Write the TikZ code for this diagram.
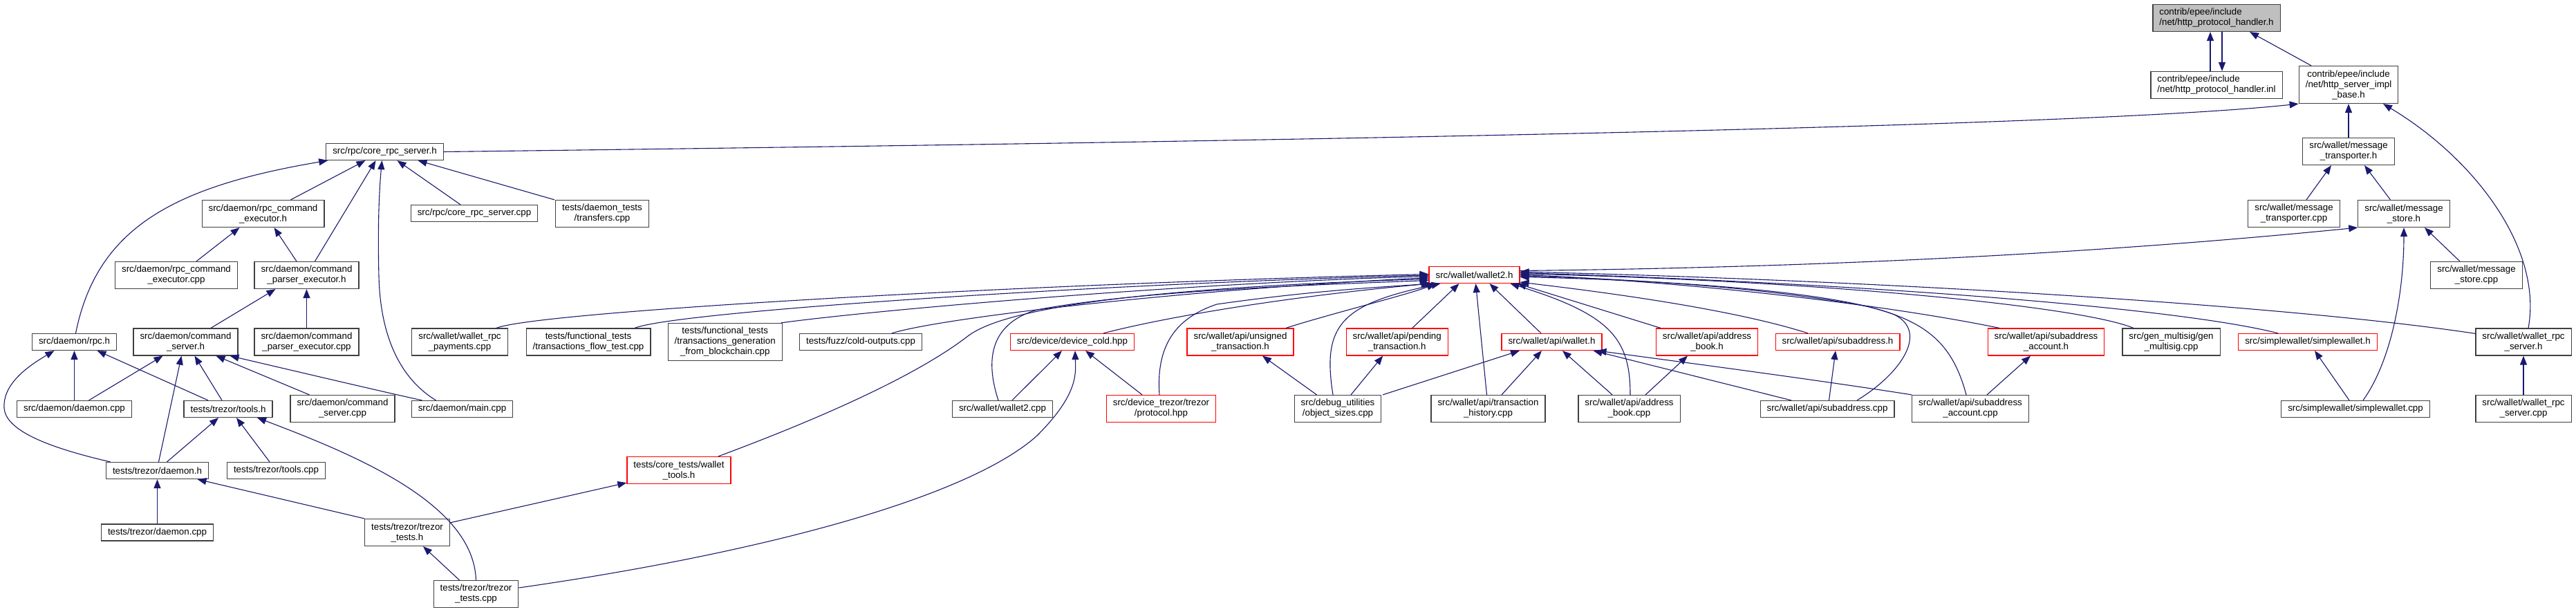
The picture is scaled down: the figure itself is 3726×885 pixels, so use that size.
\documentclass[tikz,border=0pt]{standalone}
\usepackage{fontspec}
\setmainfont{Liberation Sans}
\usetikzlibrary{arrows.meta}
\definecolor{edgec}{HTML}{191970}
\definecolor{nodeb}{HTML}{404040}
\definecolor{rootf}{HTML}{BFBFBF}
\newcommand{\nodefont}{\fontsize{13.33pt}{15pt}\selectfont}
\begin{document}
\begin{tikzpicture}[x=1pt,y=-1pt,
  box/.style={draw=nodeb, line width=1.2pt, fill=white, inner xsep=9.5pt, inner ysep=1pt, align=center, font=\nodefont, minimum height=24pt},
  two/.style={minimum height=39pt},
  three/.style={minimum height=54pt},
  redb/.style={draw=red},
  rootb/.style={fill=rootf},
  e/.style={draw=edgec, line width=1.1pt, -{Triangle[length=13pt,width=10pt]}}]
\useasboundingbox (0,0) rectangle (3726,885);
% nodes
\node[box,rootb,two,align=left] (root) at (3206,26) {contrib/epee/include\\/net/http\_protocol\_handler.h};
\node[box,two,align=left] (inl) at (3206,123) {contrib/epee/include\\/net/http\_protocol\_handler.inl};
\node[box,three] (impl) at (3397,122.5) {contrib/epee/include\\/net/http\_server\_impl\\\_base.h};
\node[box,two] (mtrh) at (3397,219) {src/wallet/message\\\_transporter.h};
\node[box,two] (mtrcpp) at (3318,309) {src/wallet/message\\\_transporter.cpp};
\node[box,two] (mstoreh) at (3477,309) {src/wallet/message\\\_store.h};
\node[box,two] (mstorecpp) at (3582,398) {src/wallet/message\\\_store.cpp};
\node[box] (corerpch) at (556.5,219.5) {src/rpc/core\_rpc\_server.h};
\node[box,two] (rpccmdh) at (380.5,309) {src/daemon/rpc\_command\\\_executor.h};
\node[box,two] (rpccmdcpp) at (255,398) {src/daemon/rpc\_command\\\_executor.cpp};
\node[box,two] (cpeh) at (443.5,398) {src/daemon/command\\\_parser\_executor.h};
\node[box] (corerpccpp) at (686,308.5) {src/rpc/core\_rpc\_server.cpp};
\node[box,two] (transfers) at (871,309) {tests/daemon\_tests\\/transfers.cpp};
\node[box] (rpch) at (107.5,494.5) {src/daemon/rpc.h};
\node[box,two] (cmdsrvh) at (268.5,494.5) {src/daemon/command\\\_server.h};
\node[box,two] (cpecpp) at (443.5,494.5) {src/daemon/command\\\_parser\_executor.cpp};
\node[box] (daemoncpp) at (107.5,591.5) {src/daemon/daemon.cpp};
\node[box] (toolsh) at (330,591.5) {tests/trezor/tools.h};
\node[box,two] (cmdsrvcpp) at (495.5,591) {src/daemon/command\\\_server.cpp};
\node[box] (maincpp) at (668.5,591.5) {src/daemon/main.cpp};
\node[box] (tdaemonh) at (227.5,680.5) {tests/trezor/daemon.h};
\node[box] (toolscpp) at (399.5,680.5) {tests/trezor/tools.cpp};
\node[box] (tdaemoncpp) at (227.5,770) {tests/trezor/daemon.cpp};
\node[box,two] (ttestsh) at (589,770) {tests/trezor/trezor\\\_tests.h};
\node[box,two] (ttestscpp) at (688.5,859) {tests/trezor/trezor\\\_tests.cpp};
\node[box,two] (payments) at (665,494.5) {src/wallet/wallet\_rpc\\\_payments.cpp};
\node[box,two] (flowtest) at (851,494.5) {tests/functional\_tests\\/transactions\_flow\_test.cpp};
\node[box,three] (generation) at (1048.7,494.5) {tests/functional\_tests\\/transactions\_generation\\\_from\_blockchain.cpp};
\node[box] (coldout) at (1245,494.5) {tests/fuzz/cold-outputs.cpp};
\node[box,two,redb] (wtools) at (982,680) {tests/core\_tests/wallet\\\_tools.h};
\node[box,redb] (wallet2h) at (2132.5,397.5) {src/wallet/wallet2.h};
\node[box,redb] (devcold) at (1551,494.5) {src/device/device\_cold.hpp};
\node[box] (wallet2cpp) at (1450,591.5) {src/wallet/wallet2.cpp};
\node[box,two,redb] (protocol) at (1679.5,591) {src/device\_trezor/trezor\\/protocol.hpp};
\node[box,two,redb] (unsigned) at (1794,494.5) {src/wallet/api/unsigned\\\_transaction.h};
\node[box,two,redb] (pending) at (2020.7,494.5) {src/wallet/api/pending\\\_transaction.h};
\node[box,redb] (apiwallet) at (2244.5,494.5) {src/wallet/api/wallet.h};
\node[box,two,redb] (abookh) at (2469,494.5) {src/wallet/api/address\\\_book.h};
\node[box,two] (objsizes) at (1935,591) {src/debug\_utilities\\/object\_sizes.cpp};
\node[box,two] (history) at (2152.5,591) {src/wallet/api/transaction\\\_history.cpp};
\node[box,two] (abookcpp) at (2356.5,591) {src/wallet/api/address\\\_book.cpp};
\node[box,redb] (subh) at (2658,494.5) {src/wallet/api/subaddress.h};
\node[box,two,redb] (subacch) at (2959.5,494.5) {src/wallet/api/subaddress\\\_account.h};
\node[box,two] (genms) at (3140.5,494.5) {src/gen\_multisig/gen\\\_multisig.cpp};
\node[box] (subcpp) at (2643,591.5) {src/wallet/api/subaddress.cpp};
\node[box,two] (subacccpp) at (2850,591) {src/wallet/api/subaddress\\\_account.cpp};
\node[box,redb] (swh) at (3338,494.5) {src/simplewallet/simplewallet.h};
\node[box,two] (wrpch) at (3650,494.5) {src/wallet/wallet\_rpc\\\_server.h};
\node[box] (swcpp) at (3407,591.5) {src/simplewallet/simplewallet.cpp};
\node[box,two] (wrpccpp) at (3650,591) {src/wallet/wallet\_rpc\\\_server.cpp};
% edges: top cluster
\draw[e] ([xshift=-9pt]inl.north) -- ([xshift=-9pt]root.south);
\draw[e] ([xshift=8pt]root.south) -- ([xshift=8pt]inl.north);
\draw[e] ([xshift=-54pt]impl.north) -- ([xshift=48pt]root.south);
\draw[e] (corerpch.east) .. controls (1800,205) and (3000,185) .. (impl.south west);
\draw[e] (mtrh.north) -- (impl.south);
\draw[e] ([xshift=7pt]wrpch.north) .. controls (3678,360) and (3580,230) .. ([xshift=50pt]impl.south);
\draw[e] ([xshift=18pt]mtrcpp.north) -- ([xshift=-25pt]mtrh.south);
\draw[e] ([xshift=-19.5pt]mstoreh.north) -- ([xshift=23pt]mtrh.south);
\draw[e] ([xshift=-24pt]mstorecpp.north) -- ([xshift=30pt]mstoreh.south);
\draw[e] ([yshift=6pt]wallet2h.east) .. controls (2800,385) and (3200,350) .. (mstoreh.south west);
\draw[e] ([xshift=11pt]swcpp.north) .. controls (3460,520) and (3477,420) .. (mstoreh.south);
% core rpc server
\draw[e] ([xshift=40pt]rpccmdh.north) -- ([xshift=-28pt]corerpch.south);
\draw[e] ([xshift=12pt]cpeh.north) -- ([xshift=-13pt]corerpch.south);
\draw[e] ([xshift=-38pt]maincpp.north) .. controls (575,545) and (550,480) .. (548,400) .. controls (546,320) and (549,270) .. ([xshift=-4pt]corerpch.south);
\draw[e] ([xshift=-20pt]corerpccpp.north) -- ([xshift=18pt]corerpch.south);
\draw[e] ([xshift=-69pt]transfers.north) -- ([xshift=48pt]corerpch.south);
\draw[e] ([xshift=2pt]rpch.north) .. controls (140,330) and (250,270) .. ([xshift=3pt]corerpch.south west);
% daemon
\draw[e] ([xshift=29pt]rpccmdcpp.north) -- ([xshift=-34pt]rpccmdh.south);
\draw[e] ([xshift=-14.5pt]cpeh.north) -- ([xshift=16pt]rpccmdh.south);
\draw[e] ([xshift=36.5pt]cmdsrvh.north) -- ([xshift=-45pt]cpeh.south);
\draw[e] (cpecpp.north) -- (cpeh.south);
\draw[e] (daemoncpp.north) -- (rpch.south);
\draw[e] ([xshift=-29pt]toolsh.north) -- ([xshift=33pt]rpch.south);
\draw[e] ([xshift=-68pt]tdaemonh.north) .. controls (60,645) and (8,620) .. (6,590) .. controls (4,555) and (40,530) .. ([xshift=-29pt]rpch.south);
\draw[e] ([xshift=21pt]daemoncpp.north) -- ([xshift=-33pt]cmdsrvh.south);
\draw[e] ([xshift=2pt]tdaemonh.north) -- ([xshift=-6pt]cmdsrvh.south);
\draw[e] ([xshift=-9pt]toolsh.north) -- ([xshift=13pt]cmdsrvh.south);
\draw[e] ([xshift=-48pt]cmdsrvcpp.north) -- ([xshift=44pt]cmdsrvh.south);
\draw[e] ([xshift=-58pt]maincpp.north) .. controls (560,568) and (420,535) .. ([xshift=64pt]cmdsrvh.south);
\draw[e] ([xshift=14pt]tdaemonh.north) -- ([xshift=-14pt]toolsh.south);
\draw[e] ([xshift=-9.5pt]toolscpp.north) -- ([xshift=12pt]toolsh.south);
\draw[e] (ttestscpp.north) .. controls (685,730) and (520,660) .. ([xshift=42pt]toolsh.south);
\draw[e] (tdaemoncpp.north) -- (tdaemonh.south);
\draw[e] (ttestsh.north west) -- ([xshift=58pt]tdaemonh.south);
\draw[e] ([xshift=-24pt]ttestscpp.north) -- ([xshift=23pt]ttestsh.south);
\draw[e] ([yshift=-6pt]ttestsh.north east) -- ([yshift=2pt]wtools.south west);
% into wallet2.h from left
\draw[e] ([xshift=53pt]payments.north) .. controls (780,450) and (1500,410) .. ([yshift=1pt]wallet2h.west);
\draw[e] ([xshift=67pt]flowtest.north) .. controls (980,450) and (1600,410) .. ([yshift=-0.5pt]wallet2h.west);
\draw[e] ([xshift=-2pt]generation.north east) .. controls (1250,450) and (1700,410) .. ([yshift=-2pt]wallet2h.west);
\draw[e] ([xshift=45pt]coldout.north) .. controls (1360,460) and (1700,420) .. ([yshift=-4pt]wallet2h.west);
\draw[e] ([xshift=57pt]wtools.north) .. controls (1200,600) and (1330,540) .. (1400,486) .. controls (1460,440) and (1700,415) .. ([yshift=-6pt]wallet2h.west);
\draw[e] ([xshift=-6pt]wallet2cpp.north) .. controls (1428,530) and (1425,470) .. (1500,448) .. controls (1650,420) and (1900,412) .. ([yshift=-8pt]wallet2h.west);
\draw[e] ([xshift=45pt]devcold.north) .. controls (1680,460) and (1850,430) .. ([xshift=2pt]wallet2h.south west);
\draw[e] ([xshift=-2.5pt]protocol.north) .. controls (1672,500) and (1700,460) .. (1760,440) .. controls (1900,420) and (2000,415) .. ([xshift=5pt]wallet2h.south west);
\draw[e] ([xshift=66pt]unsigned.north) .. controls (1920,455) and (2040,425) .. ([xshift=10pt]wallet2h.south west);
\draw[e] ([xshift=-7pt]objsizes.north) .. controls (1912,470) and (1940,440) .. ([xshift=17pt]wallet2h.south west);
% into wallet2.h from below
\draw[e] ([xshift=22pt]pending.north) -- ([xshift=-22pt]wallet2h.south);
\draw[e] ([xshift=-2pt]history.north) -- ([xshift=2pt]wallet2h.south);
\draw[e] ([xshift=-15.5pt]apiwallet.north) -- ([xshift=22pt]wallet2h.south);
\draw[e] ([xshift=1.5pt]abookcpp.north) .. controls (2358,490) and (2330,455) .. ([xshift=52pt]wallet2h.south);
\draw[e] ([xshift=-67pt]abookh.north) -- ([xshift=62pt]wallet2h.south);
\draw[e] ([xshift=-43pt]subh.north) .. controls (2500,445) and (2300,420) .. ([yshift=2pt]wallet2h.south east);
% into wallet2.h from right
\draw[e] ([xshift=43pt]subcpp.north) .. controls (2750,540) and (2790,480) .. (2740,455) .. controls (2650,420) and (2400,405) .. ([yshift=-3pt]wallet2h.east);
\draw[e] ([xshift=-6pt]subacccpp.north) .. controls (2825,500) and (2790,465) .. (2700,443) .. controls (2550,415) and (2350,403) .. ([yshift=-1.5pt]wallet2h.east);
\draw[e] ([xshift=-67.5pt]subacch.north) .. controls (2700,435) and (2400,405) .. (wallet2h.east);
\draw[e] ([xshift=-54.5pt]genms.north) .. controls (3000,440) and (2600,405) .. ([yshift=1.5pt]wallet2h.east);
\draw[e] ([xshift=-43pt]swh.north) .. controls (3150,445) and (2700,410) .. ([yshift=3pt]wallet2h.east);
\draw[e] ([yshift=-8pt]wrpch.north west) .. controls (3300,440) and (2700,405) .. ([yshift=4.5pt]wallet2h.east);
% api wallet.h
\draw[e] ([xshift=65pt]objsizes.north) -- ([xshift=-46.5pt]apiwallet.south);
\draw[e] ([xshift=19.5pt]history.north) -- ([xshift=-14.5pt]apiwallet.south);
\draw[e] ([xshift=-24.5pt]abookcpp.north) -- ([xshift=15.5pt]apiwallet.south);
\draw[e] ([xshift=-52pt]subcpp.north) -- ([xshift=60pt]apiwallet.south);
\draw[e] (subacccpp.north west) .. controls (2620,548) and (2420,522) .. ([xshift=66pt]apiwallet.south);
% others
\draw[e] ([xshift=-30.5pt]objsizes.north) -- ([xshift=32pt]unsigned.south);
\draw[e] ([xshift=19pt]objsizes.north) -- ([xshift=-20.5pt]pending.south);
\draw[e] ([xshift=23.5pt]abookcpp.north) -- ([xshift=-28pt]abookh.south);
\draw[e] ([xshift=2.5pt]subcpp.north) -- ([xshift=-3pt]subh.south);
\draw[e] ([xshift=24pt]subacccpp.north) -- ([xshift=-22.5pt]subacch.south);
\draw[e] ([xshift=-9pt]swcpp.north) -- ([xshift=10pt]swh.south);
\draw[e] (wrpccpp.north) -- (wrpch.south);
\draw[e] ([xshift=14pt]wallet2cpp.north) -- ([xshift=-15pt]devcold.south);
\draw[e] ([xshift=-27.5pt]protocol.north) -- ([xshift=19pt]devcold.south);
\draw[e] ([yshift=9pt]ttestscpp.east) .. controls (1100,800) and (1400,720) .. (1500,630) .. controls (1560,570) and (1556,540) .. ([xshift=4pt]devcold.south);
\end{tikzpicture}
\end{document}
